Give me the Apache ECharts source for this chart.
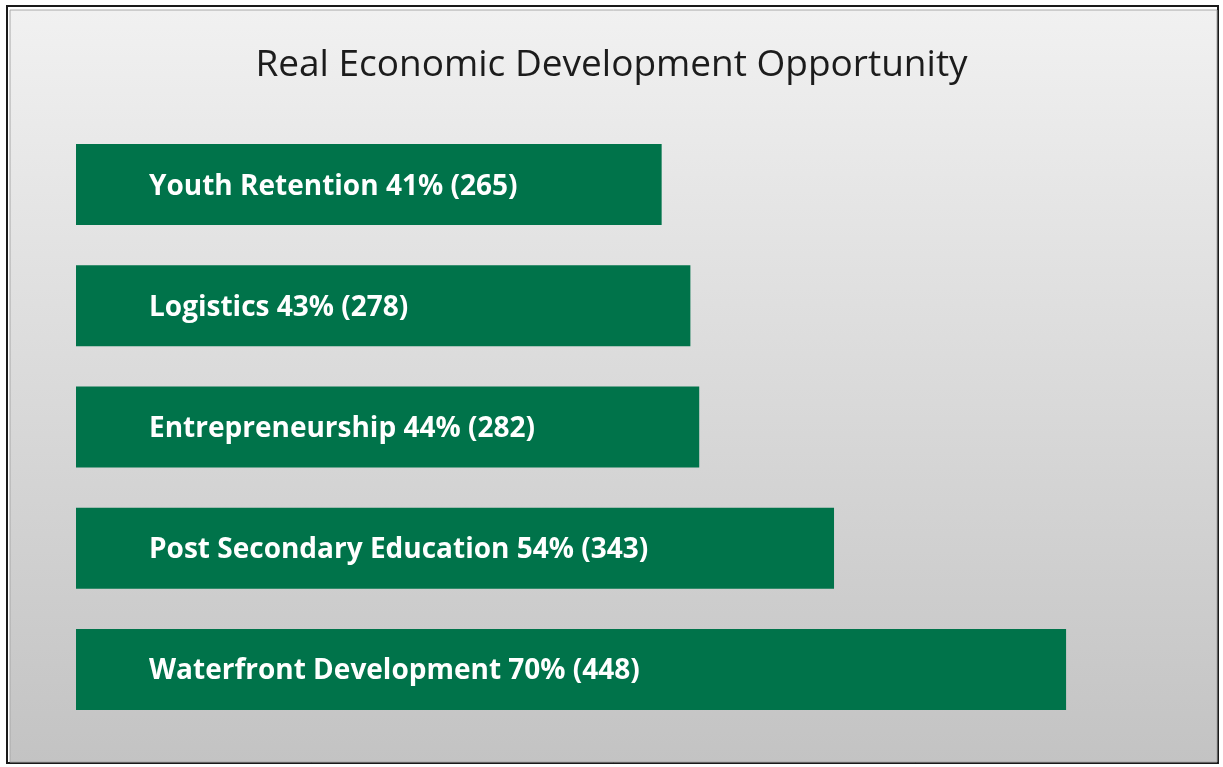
<!DOCTYPE html>
<html>
<head>
<meta charset="utf-8">
<style>
  html, body { margin: 0; padding: 0; background: #ffffff; }
  #chart { width: 1223px; height: 767px; }
</style>
<script src="https://cdn.jsdelivr.net/npm/echarts@6/dist/echarts.min.js"></script>
</head>
<body>
<div id="chart"></div>
<script>
// Survey results: share and count of respondents per opportunity
var categories = ['Youth Retention', 'Logistics', 'Entrepreneurship', 'Post Secondary Education', 'Waterfront Development'];
var percents = [41, 43, 44, 54, 70];
var counts = [265, 278, 282, 343, 448];

var chart = echarts.init(document.getElementById('chart'));

chart.setOption({
  animation: false,
  graphic: [
    {
      type: 'rect',
      z: -10,
      shape: { x: 7, y: 6, width: 1211, height: 757 },
      style: { fill: '#ffffff', stroke: '#1a1a1a', lineWidth: 2 }
    },
    {
      type: 'rect',
      z: -9,
      shape: { x: 10, y: 10, width: 1207, height: 752 },
      style: {
        stroke: '#a8a8a8',
        lineWidth: 1,
        fill: {
          type: 'linear', x: 0, y: 0, x2: 0, y2: 1,
          colorStops: [
            { offset: 0, color: '#f1f1f1' },
            { offset: 1, color: '#c3c3c3' }
          ]
        }
      }
    }
  ],
  title: {
    text: 'Real Economic Development Opportunity',
    left: 'center',
    top: 42,
    textStyle: {
      fontFamily: 'Open Sans',
      fontWeight: 'normal',
      fontSize: 37,
      color: '#1c1c1c'
    }
  },
  grid: { left: 76, right: 42, top: 124, bottom: 37, containLabel: false },
  xAxis: {
    type: 'value',
    min: 0,
    max: 500,
    show: false
  },
  yAxis: {
    type: 'category',
    data: categories,
    inverse: true,
    show: false
  },
  series: [{
    type: 'bar',
    data: counts,
    barWidth: 81,
    itemStyle: { color: '#00734a' },
    label: {
      show: true,
      position: 'insideLeft',
      distance: 73,
      color: '#ffffff',
      fontFamily: 'Open Sans',
      fontWeight: 'bold',
      fontSize: 28,
      offset: [0, 2],
      formatter: function (p) {
        return categories[p.dataIndex] + ' ' + percents[p.dataIndex] + '% (' + counts[p.dataIndex] + ')';
      }
    }
  }]
});
</script>
</body>
</html>
